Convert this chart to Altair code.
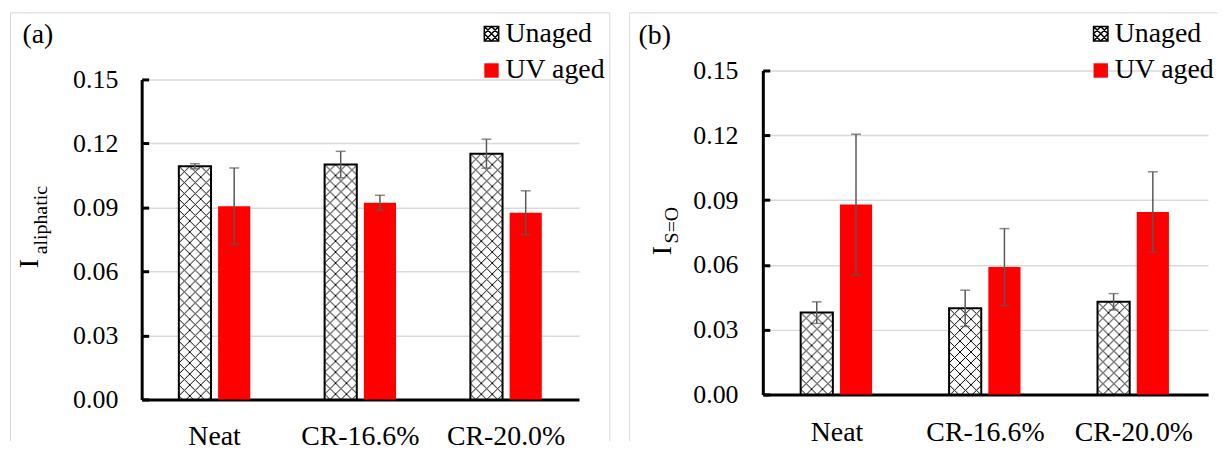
import urllib.parse
import altair as alt
import pandas as pd

# ---------------- data ----------------
categories = ["Neat", "CR-16.6%", "CR-20.0%"]
groups = ["Unaged", "UV aged"]

aliph_unaged = [0.1093, 0.1101, 0.1152]
aliph_unaged_err = [0.0012, 0.0062, 0.0068]
aliph_uv = [0.0906, 0.0922, 0.0875]
aliph_uv_err = [0.0179, 0.0035, 0.0103]

so_unaged = [0.0379, 0.0399, 0.0429]
so_unaged_err = [0.0050, 0.0084, 0.0038]
so_uv = [0.0879, 0.0590, 0.0845]
so_uv_err = [0.0326, 0.0178, 0.0186]

y_ticks = [0.00, 0.03, 0.06, 0.09, 0.12, 0.15]

# ---------------- style ----------------
FONT = "Liberation Serif"
RED = "#ff0000"
GRID = "#d9d9d9"
ERR = "#595959"

hatch_svg = (
    "<svg xmlns='http://www.w3.org/2000/svg'>"
    "<defs><pattern id='h' width='11' height='11' patternUnits='userSpaceOnUse'>"
    "<path d='M0,0L11,11M11,0L0,11' stroke='black' stroke-width='1' fill='none'/>"
    "</pattern></defs><rect width='100%' height='100%' fill='url(#h)'/></svg>"
)
HATCH_URL = "data:image/svg+xml;charset=utf-8," + urllib.parse.quote(hatch_svg)
HATCH_SYMBOL = "M-1,-1H1V1H-1Z M-1,-1L1,1 M1,-1L-1,1 M-1,0L0,-1L1,0L0,1Z"


def panel(u, ue, v, ve, width, height, top, letter, sub, geo):
    df = pd.DataFrame({
        "cat": categories * 2,
        "group": [groups[0]] * 3 + [groups[1]] * 3,
        "val": u + v,
        "err": ue + ve,
    })
    yscale = alt.Scale(domain=[0, 0.15], nice=False, zero=True, range=[height, top])
    fill_scale = alt.Scale(domain=groups, range=["white", RED])
    stroke_scale = alt.Scale(domain=groups, range=["black", "transparent"])
    shape_scale = alt.Scale(domain=groups, range=[HATCH_SYMBOL, "square"])

    xenc = alt.X(
        "cat:N", sort=categories, title=None,
        scale=alt.Scale(paddingInner=0.51, paddingOuter=0.255),
        axis=alt.Axis(labelAngle=0, labelFont=FONT, labelFontSize=28,
                      labelColor="black", labelPadding=geo["xpad"], ticks=False,
                      domainColor="black", domainWidth=3, grid=False),
    )
    xoff = alt.XOffset("group:N", sort=groups,
                       scale=alt.Scale(paddingInner=0.18, paddingOuter=0))
    base = alt.Chart(df).encode(x=xenc, xOffset=xoff)

    main_axis = alt.Axis(values=y_ticks, format=".2f", title=None,
                         labelFont=FONT, labelFontSize=26, labelColor="black",
                         labelPadding=geo["ypad"], ticks=False,
                         domainColor="black", domainWidth=3,
                         gridColor=GRID, gridWidth=1.5)
    tick_axis = alt.Axis(orient="right", offset=-width, values=y_ticks,
                         labels=False, domain=False, grid=False, ticks=True,
                         tickSize=7, tickWidth=3, tickColor="black", title=None)

    leg = alt.Legend(title=None, orient="none", legendX=geo["lx"], legendY=geo["ly"],
                     labelFont=FONT, labelFontSize=28, labelColor="black",
                     symbolSize=210, symbolStrokeWidth=1.5, rowPadding=9,
                     labelOffset=0, padding=0)

    bars = base.mark_bar().encode(
        y=alt.Y("val:Q", scale=yscale, axis=main_axis),
        y2=alt.datum(0),
        fill=alt.Fill("group:N", scale=fill_scale, legend=leg),
    )
    unaged = base.transform_filter(alt.datum.group == groups[0])
    hatch = unaged.mark_image(aspect=False).encode(
        y=alt.Y("val:Q", scale=yscale, axis=None),
        y2=alt.datum(0),
        url=alt.value(HATCH_URL),
    )
    border = unaged.mark_bar(fillOpacity=0, stroke="black", strokeWidth=2).encode(
        y=alt.Y("val:Q", scale=yscale, axis=None),
        y2=alt.datum(0),
    )
    eb = base.transform_calculate(lo="datum.val - datum.err",
                                  hi="datum.val + datum.err")
    rules = eb.mark_rule(color=ERR, strokeWidth=1.5).encode(
        y=alt.Y("lo:Q", scale=yscale, axis=None), y2="hi:Q")
    cap_lo = eb.mark_tick(color=ERR, thickness=1.5, size=10, orient="horizontal").encode(
        y=alt.Y("lo:Q", scale=yscale, axis=None))
    cap_hi = eb.mark_tick(color=ERR, thickness=1.5, size=10, orient="horizontal").encode(
        y=alt.Y("hi:Q", scale=yscale, axis=None))

    legend_pts = base.mark_point(size=0, strokeWidth=1.5, opacity=1).encode(
        y=alt.Y("val:Q", scale=yscale, axis=tick_axis),
        fill=alt.Fill("group:N", scale=fill_scale, legend=leg),
        stroke=alt.Stroke("group:N", scale=stroke_scale, legend=leg),
        shape=alt.Shape("group:N", scale=shape_scale, legend=leg),
    )

    one = pd.DataFrame({"k": [0]})
    t_letter = alt.Chart(one).mark_text(
        text=letter, font=FONT, fontSize=28, color="black",
        align="left", baseline="alphabetic",
    ).encode(x=alt.value(geo["letter"][0]), y=alt.value(geo["letter"][1]))
    t_i = alt.Chart(one).mark_text(
        text="I", font=FONT, fontSize=28, color="black", angle=270,
        align="left", baseline="alphabetic",
    ).encode(x=alt.value(geo["ti"][0]), y=alt.value(geo["ti"][1]))
    t_sub = alt.Chart(one).mark_text(
        text=sub, font=FONT, fontSize=20, color="black", angle=270,
        align="left", baseline="alphabetic",
    ).encode(x=alt.value(geo["ts"][0]), y=alt.value(geo["ts"][1]))

    fl, ft, fr, fb = geo["frame"]
    frame_left = alt.Chart(one).mark_rule(color=GRID, strokeWidth=1).encode(
        x=alt.value(fl), y=alt.value(ft), y2=alt.value(fb))
    frame_top = alt.Chart(one).mark_rule(color=GRID, strokeWidth=1).encode(
        x=alt.value(fl), x2=alt.value(fr), y=alt.value(ft))
    layers = [bars, hatch, border, rules, cap_lo, cap_hi, legend_pts,
              t_letter, t_i, t_sub, frame_left, frame_top]
    if geo.get("right_edge", True):
        layers.append(alt.Chart(one).mark_rule(color=GRID, strokeWidth=1).encode(
            x=alt.value(fr), y=alt.value(ft), y2=alt.value(fb)))
    return alt.layer(*layers).resolve_axis(y="independent").properties(
        width=width, height=height)


# positions relative to each panel's plot origin (both origins share y = 69)
geo_a = dict(xpad=23, ypad=24, lx=338, ly=-51, letter=(-120, -28),
             ti=(-104, 199), ts=(-95, 185), frame=(-132, -58, 471, 373))
geo_b = dict(xpad=24, ypad=25, lx=326, ly=-51, letter=(-125, -27),
             ti=(-92, 186), ts=(-85, 174), frame=(-134, -58, 458, 373),
             right_edge=False)

pa = panel(aliph_unaged, aliph_unaged_err, aliph_uv, aliph_uv_err,
           440, 331, 9, "(a)", "aliphatic", geo_a)
pb = panel(so_unaged, so_unaged_err, so_uv, so_uv_err,
           448, 326, 0, "(b)", "S=O", geo_b)

chart = alt.hconcat(pa, pb, spacing=18).resolve_scale(
    fill="independent", stroke="independent", shape="independent"
).resolve_legend(
    fill="independent", stroke="independent", shape="independent"
).properties(
    padding={"left": 1.5, "top": 2.5, "right": 0, "bottom": 0},
    background="white",
).configure_view(stroke=None)

chart.save("out.html", embed_options={"renderer": "svg", "actions": False})
